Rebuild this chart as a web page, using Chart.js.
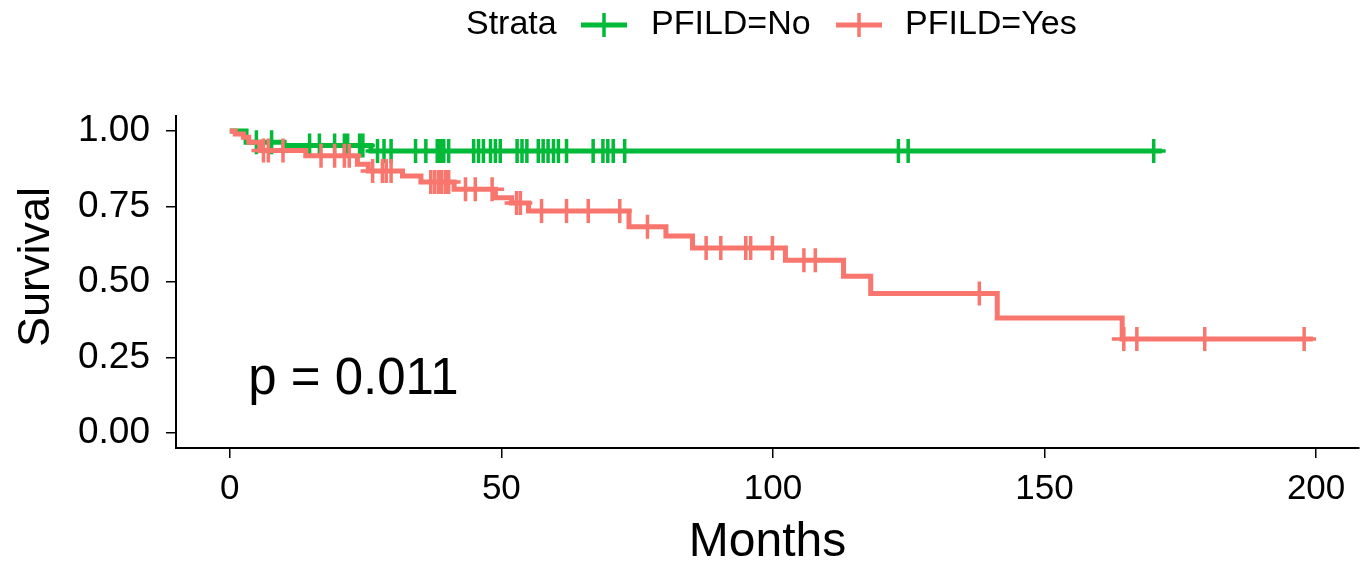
<!DOCTYPE html>
<html>
<head>
<meta charset="utf-8">
<script src="https://cdn.jsdelivr.net/npm/chart.js@4.4.1/dist/chart.umd.min.js"></script>
<style>
  html, body { margin: 0; padding: 0; background: #fff; overflow: hidden; }
  canvas { display: block; }
</style>
</head>
<body>
<canvas id="km" width="1361" height="567"></canvas>
<script>
"use strict";

// Curva PFILD=No (tiempo del evento, supervivencia después del evento)
const noTimes = [0, 3, 10, 26, 171.6];
const noSurv = [1.0, 0.963, 0.952, 0.934, 0.934];
const noCensor = [4.9, 7.7, 14.7, 16.5, 19.3, 21.1, 21.7, 23.9, 24.5, 27.2, 28.4, 29.7,
  34.2, 36.1, 38.2, 38.8, 39.4, 40.3, 44.9, 45.8, 46.7, 48.0, 48.9, 49.8, 52.9, 53.8,
  54.7, 56.8, 57.7, 58.6, 59.6, 60.5, 62.0, 66.9, 68.7, 69.6, 70.6, 72.7, 123.1, 124.9, 170.1];

// Curva PFILD=Yes
const yesTimes = [0, 1, 2.5, 3.5, 5.5, 14, 23.5, 25.5, 31.8, 35.2, 41.3, 48.9, 51.9, 55,
  73.5, 80.3, 85.2, 102.3, 113, 118, 141.3, 164.3, 199.4];
const yesSurv = [1.0, 0.99, 0.98, 0.963, 0.936, 0.918, 0.89, 0.868, 0.851, 0.831, 0.807,
  0.779, 0.762, 0.735, 0.683, 0.652, 0.613, 0.572, 0.519, 0.462, 0.381, 0.311, 0.311];
const yesCensor = [6.2, 7.1, 9.8, 16.8, 19.3, 21.1, 22.0, 26.3, 28.1, 28.8, 29.7, 37.0,
  37.7, 38.4, 39.0, 39.7, 40.3, 43.4, 45.2, 48.3, 52.8, 53.5, 57.4, 62.0, 66.0, 71.8,
  76.9, 87.7, 90.4, 95.0, 95.9, 99.9, 105.7, 107.8, 138.0, 164.6, 167.0, 179.5, 197.8];

const xTicks = [0, 50, 100, 150, 200];
const yTicks = [0, 0.25, 0.5, 0.75, 1.0];
const strataTitle = "Strata";
const strataLabels = ["PFILD=No", "PFILD=Yes"];
const yTitle = "Survival";
const pText = "p = 0.011";

const GREEN = "#00BA38";
const RED = "#F8766D";
const FONT = "'Liberation Sans', Arial, sans-serif";

// supervivencia en el tiempo t (función escalonada)
function survAt(times, surv, t) {
  let s = surv[0];
  for (let i = 0; i < times.length; i++) {
    if (times[i] <= t) s = surv[i];
  }
  return s;
}

const toPts = (times, surv) => times.map((t, i) => ({ x: t, y: surv[i] }));
const censorPts = (list, times, surv) => list.map((t) => ({ x: t, y: survAt(times, surv, t) }));

const lineDs = (data, color, order) => ({
  data, borderColor: color, borderWidth: 5, stepped: "before",
  pointRadius: 0, fill: false, order,
});
const crossDs = (data, color, order) => ({
  data, showLine: false, pointStyle: "cross", pointRadius: 12,
  pointBorderWidth: 3.5, pointBorderColor: color, borderColor: color, order,
});

// Leyenda superior, título del eje Y y valor p
const annotations = {
  id: "annotations",
  afterDraw(chart) {
    const ctx = chart.ctx;
    ctx.save();
    ctx.fillStyle = "#000";
    ctx.textBaseline = "middle";
    ctx.textAlign = "left";
    ctx.font = `34px ${FONT}`;
    const ly = 25;
    ctx.fillText(strataTitle, 466, ly);
    const keys = [
      { x: 581, color: GREEN, label: strataLabels[0], tx: 651 },
      { x: 836, color: RED, label: strataLabels[1], tx: 905 },
    ];
    keys.forEach((k) => {
      ctx.strokeStyle = k.color;
      ctx.lineWidth = 5;
      ctx.beginPath();
      ctx.moveTo(k.x, ly);
      ctx.lineTo(k.x + 46, ly);
      ctx.stroke();
      ctx.lineWidth = 3.5;
      ctx.beginPath();
      ctx.moveTo(k.x + 23, ly - 12);
      ctx.lineTo(k.x + 23, ly + 12);
      ctx.stroke();
      ctx.fillStyle = "#000";
      ctx.fillText(k.label, k.tx, ly);
    });

    // título del eje Y
    ctx.save();
    ctx.translate(37, 267);
    ctx.rotate(-Math.PI / 2);
    ctx.textAlign = "center";
    ctx.font = `45px ${FONT}`;
    ctx.fillText(yTitle, 0, 0);
    ctx.restore();

    const xs = chart.scales.x, ys = chart.scales.y;
    ctx.font = `51px ${FONT}`;
    ctx.fillText(pText, xs.getPixelForValue(3.4), ys.getPixelForValue(0.176));
    ctx.restore();
  },
};

new Chart(document.getElementById("km"), {
  type: "line",
  data: {
    datasets: [
      lineDs(toPts(noTimes, noSurv), GREEN, 4),
      crossDs(censorPts(noCensor, noTimes, noSurv), GREEN, 3),
      lineDs(toPts(yesTimes, yesSurv), RED, 2),
      crossDs(censorPts(yesCensor, yesTimes, yesSurv), RED, 1),
    ],
  },
  options: {
    responsive: false,
    animation: false,
    layout: { autoPadding: false, padding: { top: 116, right: 2, left: 0, bottom: 0 } },
    plugins: { legend: { display: false }, tooltip: { enabled: false } },
    scales: {
      x: {
        type: "linear",
        min: -9.9,
        max: 207.9,
        afterBuildTicks: (s) => { s.ticks = xTicks.map((v) => ({ value: v })); },
        afterFit: (s) => { s.height = 119; s.paddingLeft = 0; s.paddingRight = 0; },
        ticks: { font: { size: 35, family: FONT }, color: "#000", padding: 10, maxRotation: 0 },
        grid: { drawOnChartArea: false, color: "#000", lineWidth: 1.5, tickLength: 10 },
        border: { color: "#000", width: 2 },
        title: {
          display: true, text: "Months", color: "#000",
          font: { size: 48, family: FONT, lineHeight: 1 }, padding: { top: 0, bottom: 0 },
        },
      },
      y: {
        min: -0.05,
        max: 1.05,
        afterBuildTicks: (s) => { s.ticks = yTicks.map((v) => ({ value: v })); },
        afterFit: (s) => { s.width = 176; s.paddingTop = 0; s.paddingBottom = 0; },
        ticks: {
          font: { size: 37, family: FONT }, color: "#000", padding: 16,
          callback: (v) => Number(v).toFixed(2),
        },
        grid: { drawOnChartArea: false, color: "#000", lineWidth: 1.5, tickLength: 10 },
        border: { color: "#000", width: 2 },
        title: { display: false },
      },
    },
  },
  plugins: [annotations],
});
</script>
</body>
</html>
